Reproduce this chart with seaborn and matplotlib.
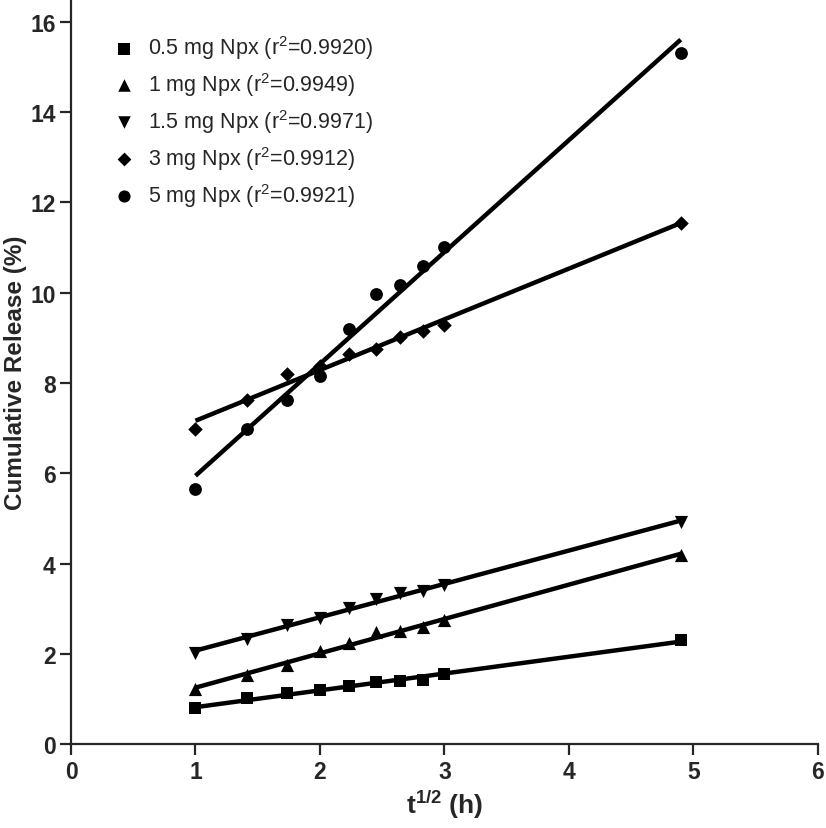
import numpy as np
import pandas as pd
import matplotlib
matplotlib.use("Agg")
import matplotlib.pyplot as plt
import seaborn as sns

# Data
x_sqrt_t = [1.0, 1.414, 1.732, 2.0, 2.236, 2.449, 2.646, 2.828, 3.0, 4.899]
npx_05 = [0.80, 1.02, 1.13, 1.20, 1.29, 1.37, 1.40, 1.43, 1.55, 2.31]
npx_1 = [1.22, 1.53, 1.75, 2.06, 2.25, 2.48, 2.51, 2.59, 2.75, 4.19]
npx_15 = [2.03, 2.34, 2.64, 2.79, 3.01, 3.22, 3.35, 3.39, 3.53, 4.92]
npx_3 = [6.97, 7.63, 8.20, 8.37, 8.64, 8.76, 9.02, 9.14, 9.29, 11.55]
npx_5 = [5.65, 6.97, 7.63, 8.15, 9.19, 9.97, 10.16, 10.58, 11.02, 15.30]
labels = ["0.5 mg Npx (r$^2$=0.9920)", "1 mg Npx (r$^2$=0.9949)",
          "1.5 mg Npx (r$^2$=0.9971)", "3 mg Npx (r$^2$=0.9912)",
          "5 mg Npx (r$^2$=0.9921)"]
markers = ["s", "^", "v", "D", "o"]
marker_sizes = [80, 90, 90, 55, 85]
series = [npx_05, npx_1, npx_15, npx_3, npx_5]

sns.set_style("ticks")
plt.rcParams["font.family"] = ["Liberation Sans", "DejaVu Sans"]
plt.rcParams["mathtext.fontset"] = "custom"
plt.rcParams["mathtext.rm"] = "Liberation Sans"
plt.rcParams["mathtext.it"] = "Liberation Sans:italic"
plt.rcParams["mathtext.bf"] = "Liberation Sans:bold"

fig = plt.figure(figsize=(8.26, 8.29), dpi=100)
ax = fig.add_axes([0.086, 0.101, 0.904, 0.899])

for vals, lab, mk, ms in zip(series, labels, markers, marker_sizes):
    df = pd.DataFrame({"x": x_sqrt_t, "y": vals})
    sns.regplot(data=df, x="x", y="y", ax=ax, ci=None, truncate=True,
                marker=mk, color="black",
                scatter_kws={"s": ms, "label": lab, "linewidths": 0, "alpha": 1},
                line_kws={"lw": 3.2, "solid_capstyle": "butt"})

ax.set_xlim(0, 6)
ax.set_ylim(0, 16.5)
ax.set_xticks(range(0, 7))
ax.set_yticks(range(0, 17, 2))
for s in ["top", "right"]:
    ax.spines[s].set_visible(False)
for s in ["left", "bottom"]:
    ax.spines[s].set_linewidth(1.6)
ax.tick_params(direction="out", length=8, width=1.6, labelsize=16.5, pad=3)
for t in ax.get_xticklabels() + ax.get_yticklabels():
    t.set_fontweight("bold")
ax.set_xlabel("t$^{\\mathbf{1/2}}$ (h)", fontsize=19, fontweight="bold",
              labelpad=4)
ax.set_ylabel("Cumulative Release (%)", fontsize=17.5, fontweight="bold",
              labelpad=2)

handles = list(ax.collections)
leg = ax.legend(handles=handles, labels=labels, loc="upper left",
                bbox_to_anchor=(0.028, 0.98), frameon=False, fontsize=15.5,
                handletextpad=0.5, labelspacing=0.42, handlelength=1.2,
                markerscale=0.95)

fig.savefig("out.png", dpi=100)
